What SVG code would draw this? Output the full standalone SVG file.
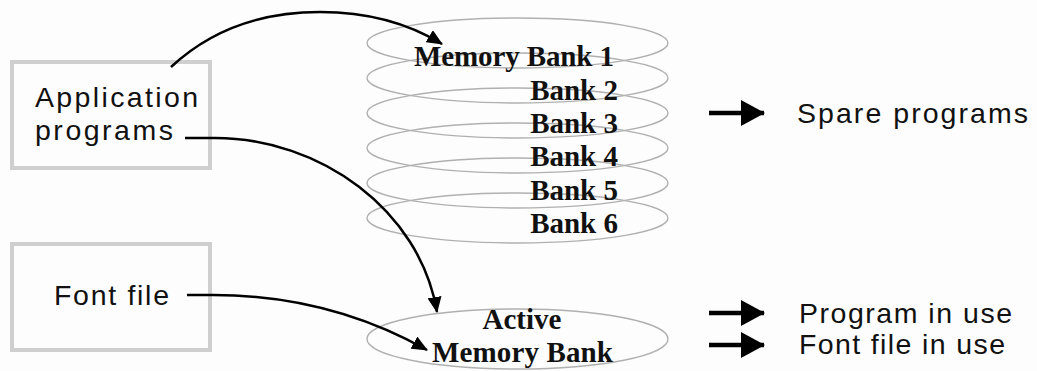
<svg xmlns="http://www.w3.org/2000/svg" width="1037" height="371" viewBox="0 0 1037 371">
<style>
.box{fill:none;stroke:#cfcfcf;stroke-width:4}
.bank{fill:none;stroke:#b0b0b0;stroke-width:1.4}
.sans{font-family:"Liberation Sans",Arial,sans-serif;font-size:28.5px;fill:#111}
.serif{font-family:"Liberation Serif","Times New Roman",serif;font-size:29px;font-weight:bold;fill:#111}
.conn{fill:none;stroke:#000;stroke-width:2.5}
.shaft{stroke:#000;stroke-width:4.5}
</style>
<defs>
<marker id="ah" markerUnits="userSpaceOnUse" markerWidth="16" markerHeight="14" viewBox="0 0 16 14" refX="15" refY="7" orient="auto">
<path d="M0,0 L16,7 L0,14 Z" fill="#000"/>
</marker>
<marker id="bigah" markerUnits="userSpaceOnUse" markerWidth="24" markerHeight="26" viewBox="0 0 24 26" refX="23" refY="13" orient="auto">
<path d="M0,0 L24,13 L0,26 Z" fill="#000"/>
</marker>
</defs>
<rect width="1037" height="371" fill="#fdfdfd"/>

<g id="app-programs">
<rect class="box" x="12" y="62" width="198" height="106"/>
<text class="sans" x="35" y="107" textLength="163" lengthAdjust="spacing">Application</text>
<text class="sans" x="35" y="140" textLength="138" lengthAdjust="spacing">programs</text>
</g>

<g id="font-file">
<rect class="box" x="12" y="244" width="198" height="106"/>
<text class="sans" x="54" y="305" textLength="115" lengthAdjust="spacing">Font file</text>
</g>

<g id="memory-banks">
<ellipse class="bank" cx="517.5" cy="43" rx="150.5" ry="25"/>
<ellipse class="bank" cx="517.5" cy="78" rx="150.5" ry="25"/>
<ellipse class="bank" cx="517.5" cy="113" rx="150.5" ry="25"/>
<ellipse class="bank" cx="517.5" cy="148" rx="150.5" ry="25"/>
<ellipse class="bank" cx="517.5" cy="183" rx="150.5" ry="25"/>
<ellipse class="bank" cx="517.5" cy="218" rx="150.5" ry="25"/>
<text class="serif" x="414" y="66" textLength="200" lengthAdjust="spacing">Memory Bank 1</text>
<text class="serif" x="618" y="100" text-anchor="end">Bank 2</text>
<text class="serif" x="618" y="133" text-anchor="end">Bank 3</text>
<text class="serif" x="618" y="166" text-anchor="end">Bank 4</text>
<text class="serif" x="618" y="200" text-anchor="end">Bank 5</text>
<text class="serif" x="618" y="233" text-anchor="end">Bank 6</text>
</g>

<g id="active-bank">
<ellipse class="bank" cx="517.5" cy="339" rx="150.5" ry="30"/>
<text class="serif" x="522" y="329" text-anchor="middle">Active</text>
<text class="serif" x="432" y="362" textLength="181" lengthAdjust="spacing">Memory Bank</text>
</g>

<g id="legend-spare">
<line class="shaft" x1="709" y1="113" x2="764" y2="113" marker-end="url(#bigah)"/>
<text class="sans" x="797" y="123" textLength="231" lengthAdjust="spacing">Spare programs</text>
</g>
<g id="legend-program">
<line class="shaft" x1="709" y1="313" x2="764" y2="313" marker-end="url(#bigah)"/>
<text class="sans" x="799" y="323" textLength="213" lengthAdjust="spacing">Program in use</text>
</g>
<g id="legend-font">
<line class="shaft" x1="709" y1="345" x2="764" y2="345" marker-end="url(#bigah)"/>
<text class="sans" x="799" y="354" textLength="206" lengthAdjust="spacing">Font file in use</text>
</g>

<g id="connectors">
<path class="conn" d="M171,67 Q230,12 320,12 Q390,12 442,44" marker-end="url(#ah)"/>
<path class="conn" d="M185,138 L215,138 C320,138 420,210 437,312" marker-end="url(#ah)"/>
<path class="conn" d="M187,295 L213,295 C300,295 370,318 427,350" marker-end="url(#ah)"/>
</g>
</svg>
